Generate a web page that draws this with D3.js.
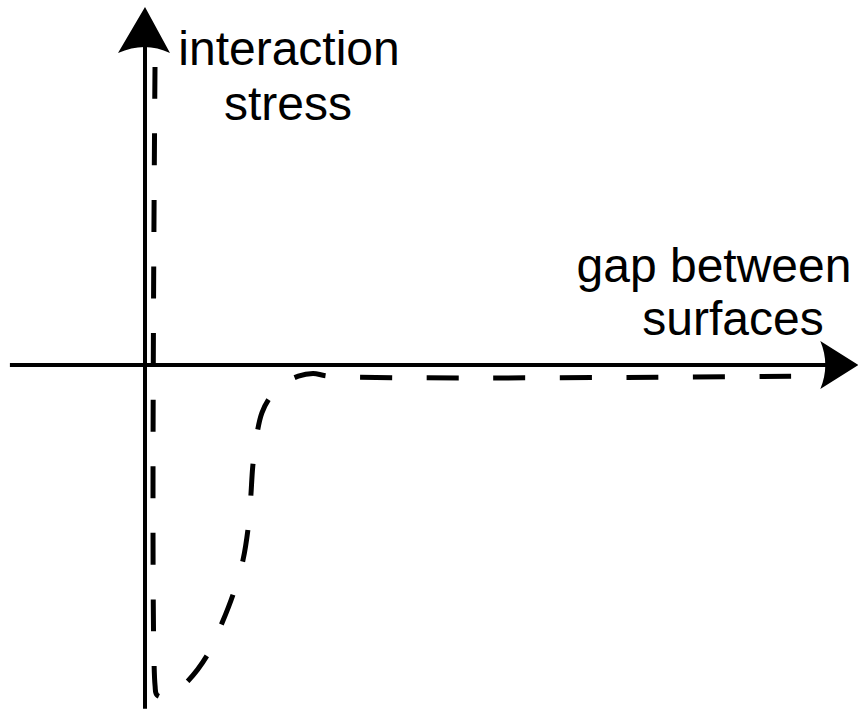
<!DOCTYPE html>
<html>
<head>
<meta charset="utf-8">
<script src="https://cdn.jsdelivr.net/npm/d3@7"></script>
<style>
  body { margin: 0; background: #fff; }
  text { font-family: "Liberation Sans", Arial, Helvetica, sans-serif; }
</style>
</head>
<body>
<div id="chart"></div>
<script>
// curve points (gap, stress) in arbitrary units
var gapValues    = [1.43, 1.43, 1.71, 3.3, 6.1, 8.9, 11.0, 12.7, 14.0, 14.7, 15.1, 15.4, 15.9, 16.7, 17.9, 19.7, 21.9, 24.0, 26.4, 92.3];
var stressValues = [90.3, -97.0, -100.0, -100.6, -95.8, -87.9, -78.2, -68.8, -59.1, -50.0, -40.3, -30.6, -22.1, -14.5, -9.7, -5.8, -3.4, -2.6, -3.4, -3.4];
var yLabel = ["interaction", "stress"];
var xLabel = ["gap between", "surfaces"];

var width = 858,
    height = 711;

var svg = d3.select('#chart').append('svg')
  .attr('width', width)
  .attr('height', height);

var x = d3.scaleLinear().domain([0, 100]).range([145, 845]);
var y = d3.scaleLinear().domain([-100, 100]).range([695, 35]);

// axes
svg.append('line')
  .attr('x1', x(-19.3)).attr('x2', x(98.5))
  .attr('y1', y(0)).attr('y2', y(0))
  .attr('stroke', '#000').attr('stroke-width', 4);

svg.append('line')
  .attr('x1', x(0)).attr('x2', x(0))
  .attr('y1', y(-104.2)).attr('y2', y(97))
  .attr('stroke', '#000').attr('stroke-width', 4);

// arrow heads
var xt = x(101.9), yt = y(0);
svg.append('path')
  .attr('d', 'M' + xt + ',' + yt +
    'L' + (xt - 38) + ',' + (yt - 24) +
    'Q' + (xt - 28) + ',' + yt + ' ' + (xt - 38) + ',' + (yt + 24) + 'Z')
  .attr('fill', '#000');

var yx = x(0), ytip = y(108.5);
svg.append('path')
  .attr('d', 'M' + yx + ',' + ytip +
    'L' + (yx + 25) + ',' + (ytip + 46) +
    'Q' + yx + ',' + (ytip + 34) + ' ' + (yx - 27) + ',' + (ytip + 46) + 'Z')
  .attr('fill', '#000');

// dashed curve
var pts = gapValues.map(function(g, i) { return [g, stressValues[i]]; });
var line = d3.line()
  .x(function(d) { return x(d[0]); })
  .y(function(d) { return y(d[1]); })
  .curve(d3.curveCatmullRom.alpha(0.5));

var curve = svg.append('path')
  .datum(pts)
  .attr('d', line)
  .attr('fill', 'none')
  .attr('stroke', '#000')
  .attr('stroke-width', 5);

// fit the dash period so a dash starts and ends the curve
var dash = 32, p0 = 65.7;
var L = curve.node().getTotalLength();
var n = Math.round((L - dash) / p0);
var p = (L - dash) / n;
curve.attr('stroke-dasharray', dash + ',' + (p - dash));

// labels
svg.append('text')
  .attr('x', 289).attr('y', 65)
  .attr('text-anchor', 'middle')
  .attr('font-size', 48)
  .text(yLabel[0]);
svg.append('text')
  .attr('x', 288).attr('y', 120)
  .attr('text-anchor', 'middle')
  .attr('font-size', 48)
  .text(yLabel[1]);

svg.append('text')
  .attr('x', 714).attr('y', 282)
  .attr('text-anchor', 'middle')
  .attr('font-size', 48)
  .text(xLabel[0]);
svg.append('text')
  .attr('x', 733).attr('y', 335)
  .attr('text-anchor', 'middle')
  .attr('font-size', 48)
  .text(xLabel[1]);
</script>
</body>
</html>
